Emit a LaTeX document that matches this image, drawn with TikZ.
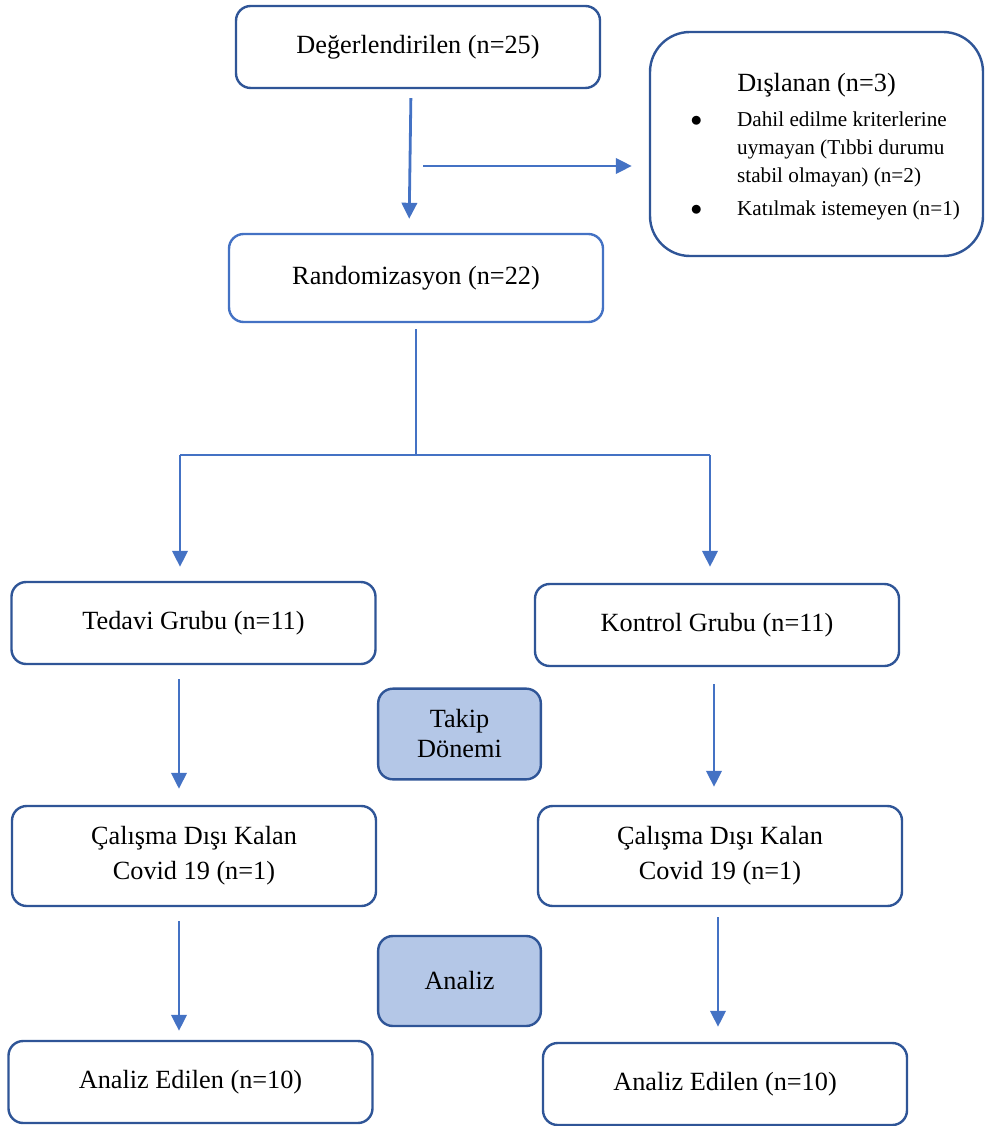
\documentclass[tikz,border=0pt]{standalone}
\usepackage{fontspec}
\setmainfont{Liberation Serif}
\usetikzlibrary{positioning,arrows.meta}

\definecolor{boxblue}{HTML}{2F5597}
\definecolor{lineblue}{HTML}{4472C4}
\definecolor{phasefill}{HTML}{B4C7E7}

\begin{document}
\begin{tikzpicture}[x=0.75pt,y=-0.75pt,
	flowbox/.style={rectangle, rounded corners=11pt, draw=boxblue, line width=1.8pt, fill=white, align=center,
		font=\fontsize{19.7}{26}\selectfont, minimum width=273pt, minimum height=61.5pt, inner sep=2pt},
	phasebox/.style={flowbox, fill=phasefill, minimum width=122pt, minimum height=68pt, font=\fontsize{19.7}{22.5}\selectfont},
	arr/.style={draw=lineblue, line width=2.1pt, -{Triangle[length=12pt,width=11.5pt]}},
	branch/.style={draw=lineblue, line width=1.1pt}]
	\useasboundingbox (0,0) rectangle (985,1126);

	\node[flowbox] (deg) at (418,47) {Değerlendirilen (n=25)};
	\node[flowbox, rounded corners=30pt, minimum width=249.75pt, minimum height=168pt, inner sep=0pt] (dis) at (816.5,144) {%
		\begin{minipage}{249pt}
		\vspace*{7.5pt}
		\centering Dışlanan (n=3)\par\vspace{6pt}
		\raggedright\fontsize{15.9}{21}\selectfont\hspace*{30pt}\begin{tabular}{@{}p{35pt}@{}l@{}}
		$\bullet$ & Dahil edilme kriterlerine\\
		 & uymayan (Tıbbi durumu\\
		 & stabil olmayan) (n=2)\\[4pt]
		$\bullet$ & Katılmak istemeyen (n=1)
		\end{tabular}
		\end{minipage}};
	\node[flowbox, draw=lineblue, minimum width=280.5pt, minimum height=66pt] (rand) at (416,278) {Randomizasyon (n=22)};

	\node[flowbox] (ted) at (193.5,623) {Tedavi Grubu (n=11)};
	\node[flowbox] (kon) at (717,625) {Kontrol Grubu (n=11)};
	\node[phasebox] (takip) at (459.5,734) {Takip\\Dönemi};
	\node[flowbox, minimum height=75pt] (cl) at (194,856) {Çalışma Dışı Kalan\\Covid 19 (n=1)};
	\node[flowbox, minimum height=75pt] (cr) at (720,856) {Çalışma Dışı Kalan\\Covid 19 (n=1)};
	\node[phasebox, minimum height=67.5pt] (analiz) at (459.5,981) {Analiz};
	\node[flowbox] (al) at (190.5,1082) {Analiz Edilen (n=10)};
	\node[flowbox] (ar) at (725,1084) {Analiz Edilen (n=10)};

	\coordinate (exc) at (423,166);
	\coordinate (split) at (416,455);
	\coordinate (sl) at (180,455);
	\coordinate (sr) at (710,455);

	\draw[arr, shorten <=6.75pt, shorten >=10.5pt] ([xshift=-5.25pt]deg.south) -- ([xshift=-5.25pt]rand.north);
	\draw[arr, shorten >=12.75pt] (exc) -- (exc -| dis.west);
	\draw[branch, shorten <=4.5pt] (rand.south) -- (split);
	\draw[branch] (sl) -- (sr);
	\draw[arr, shorten >=10.5pt] (sl) -- (sl |- ted.north);
	\draw[arr, shorten >=12pt] (sr) -- (sr |- kon.north);
	\draw[arr, shorten <=10.5pt, shorten >=12pt] ([xshift=-10.9pt]ted.south) -- ([xshift=-10.9pt]ted.south |- cl.north);
	\draw[arr, shorten <=10.5pt, shorten >=6.75pt] ([xshift=-11.25pt]cl.south) -- ([xshift=-11.25pt]cl.south |- al.north);
	\draw[arr, shorten <=12.75pt, shorten >=13.5pt] ([xshift=-2.25pt]kon.south) -- ([xshift=-2.25pt]kon.south |- cr.north);
	\draw[arr, shorten <=7.5pt, shorten >=11.25pt] ([xshift=-1.5pt]cr.south) -- ([xshift=-1.5pt]cr.south |- ar.north);
\end{tikzpicture}
\end{document}
